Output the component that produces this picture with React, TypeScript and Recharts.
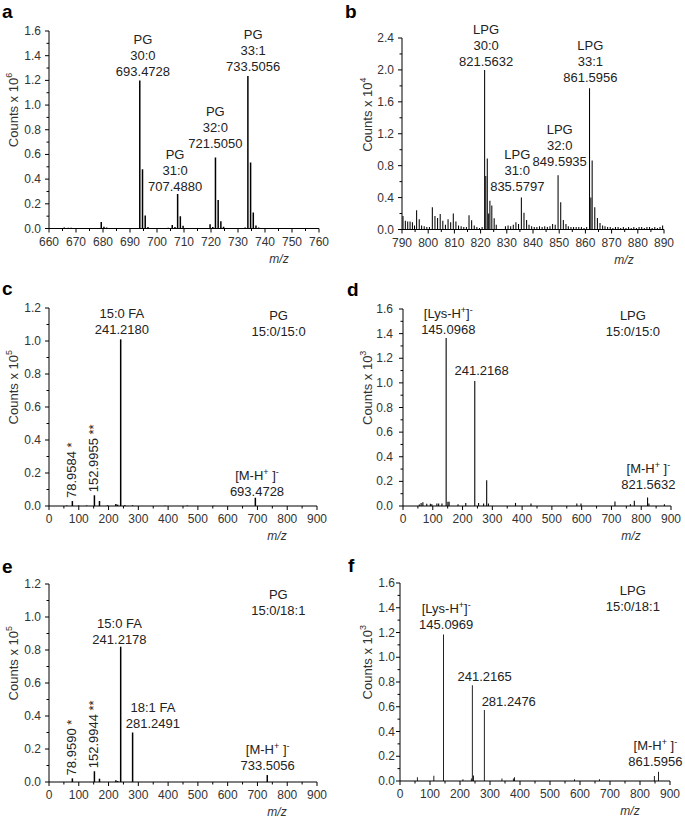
import React from 'react';
import { BarChart, Bar, XAxis, YAxis, ReferenceDot } from 'recharts';

// [m/z, counts] pairs
const peaksA: [number, number][] = [
  [662, 0.004], [665.5, 0.008], [667, 0.006], [668, 0.006], [670, 0.004], [672, 0.003], [675, 0.004], [677, 0.003],
  [679.2, 0.052], [680.2, 0.015], [681.2, 0.008], [683, 0.004], [686, 0.003], [689, 0.003], [691, 0.004],
  [693.47, 1.2], [694.48, 0.48], [695.48, 0.105], [696.5, 0.012], [698, 0.004], [700, 0.003], [702, 0.004], [704, 0.006],
  [705.5, 0.028], [706.5, 0.012], [707.49, 0.28], [708.49, 0.1], [709.5, 0.022], [710.5, 0.005], [713, 0.004], [716, 0.004], [718, 0.005],
  [719.5, 0.035], [720.5, 0.012], [721.5, 0.575], [722.5, 0.23], [723.5, 0.058], [724.5, 0.015], [726, 0.004], [729, 0.004], [731, 0.005], [732.5, 0.008],
  [733.51, 1.235], [734.51, 0.535], [735.51, 0.13], [736.5, 0.025], [737.5, 0.008], [739, 0.004], [742, 0.003], [745, 0.004], [748, 0.003], [751, 0.003], [754, 0.003], [757, 0.003],
];

const peaksB: [number, number][] = [
  [790.4, 0.17], [791.3, 0.11], [792.2, 0.1], [793.1, 0.1], [794.0, 0.09], [794.8, 0.05], [795.6, 0.24], [796.6, 0.13],
  [797.5, 0.05], [798.5, 0.04], [799.5, 0.03], [800.5, 0.03], [801.6, 0.28], [802.6, 0.17], [803.6, 0.145], [804.6, 0.195],
  [805.6, 0.11], [806.6, 0.06], [807.6, 0.13], [808.6, 0.09], [809.6, 0.2], [810.6, 0.1], [811.6, 0.05], [812.6, 0.04],
  [813.6, 0.03], [814.6, 0.03], [815.6, 0.18], [816.6, 0.115], [817.6, 0.05], [818.6, 0.03], [819.6, 0.02], [820.6, 0.03],
  [821.56, 2.0], [822.0, 0.67], [822.57, 0.89], [823.1, 0.2], [823.57, 0.36], [824.3, 0.3], [825.2, 0.14], [826.0, 0.06],
  [829.5, 0.04], [830.5, 0.05], [831.5, 0.04], [832.5, 0.06], [833.5, 0.09], [834.5, 0.07], [835.58, 0.4], [836.58, 0.21],
  [837.58, 0.12], [838.5, 0.06], [839.5, 0.04], [840.5, 0.03], [841.5, 0.03], [842.5, 0.04], [843.5, 0.03], [844.5, 0.04],
  [845.5, 0.03], [846.5, 0.04], [847.5, 0.07], [848.5, 0.06], [849.59, 0.68], [850.6, 0.34], [851.6, 0.12], [852.6, 0.07],
  [853.5, 0.04], [854.5, 0.03], [855.5, 0.03], [856.5, 0.03], [857.5, 0.03], [858.5, 0.03], [859.5, 0.02], [860.5, 0.03],
  [861.6, 1.77], [862.1, 0.4], [862.6, 0.865], [863.6, 0.28], [864.6, 0.145], [865.6, 0.08], [866.6, 0.05], [867.5, 0.04],
  [868.5, 0.03], [869.5, 0.03], [870.5, 0.02], [871.5, 0.03], [872.5, 0.03], [873.5, 0.02], [874.5, 0.03], [875.5, 0.02],
  [876.5, 0.03], [877.5, 0.02], [878.5, 0.03], [879.5, 0.02], [880.5, 0.03], [881.5, 0.03], [882.5, 0.02], [883.5, 0.03],
  [884.5, 0.03], [885.5, 0.02], [886.5, 0.03], [887.5, 0.02], [888.5, 0.03], [889.5, 0.05],
];

const peaksC: [number, number][] = [
  [60, 0.003], [78.96, 0.03], [100, 0.003], [127, 0.003], [152.99, 0.065], [170, 0.03], [197, 0.004], [225, 0.012],
  [231, 0.008], [241.22, 1.01], [255, 0.004], [281, 0.004], [390, 0.002], [465, 0.003], [555, 0.002], [693.47, 0.05],
];

const peaksD: [number, number][] = [
  [55, 0.012], [61, 0.025], [67, 0.03], [80, 0.018], [92, 0.018], [97, 0.015], [114, 0.02], [120, 0.02], [131, 0.02],
  [145.1, 1.365], [151, 0.035], [155, 0.035], [185, 0.015], [211, 0.025], [241.22, 1.015], [254, 0.025], [271, 0.02],
  [281.25, 0.21], [287, 0.02], [378, 0.025], [430, 0.02], [584, 0.02], [598, 0.02], [712, 0.037], [764, 0.015],
  [777, 0.043], [821.56, 0.07], [826, 0.02], [878, 0.015],
];

const peaksE: [number, number][] = [
  [78.96, 0.022], [152.99, 0.065], [170, 0.02], [225, 0.01], [231, 0.006], [241.22, 0.82], [281.25, 0.3], [733.51, 0.042],
];

const peaksF: [number, number][] = [
  [58, 0.03], [113, 0.043], [145.1, 1.183], [210, 0.015], [238, 0.02], [241.22, 0.774], [245, 0.045], [281.25, 0.573],
  [340, 0.02], [378, 0.02], [382, 0.03], [582, 0.015], [665, 0.015], [848, 0.04], [861.6, 0.075],
];

// major tick labels (minor ticks sit halfway between)
const xTicksA = [660, 670, 680, 690, 700, 710, 720, 730, 740, 750, 760];
const xTicksB = [790, 800, 810, 820, 830, 840, 850, 860, 870, 880, 890];
const xTicksFull = [0, 100, 200, 300, 400, 500, 600, 700, 800, 900];
const yTicksA = [0, 0.2, 0.4, 0.6, 0.8, 1.0, 1.2, 1.4, 1.6];
const yTicksB = [0, 0.4, 0.8, 1.2, 1.6, 2.0, 2.4];
const yTicksPG = [0, 0.2, 0.4, 0.6, 0.8, 1.0, 1.2];
const yTicksLPG = [0, 0.2, 0.4, 0.6, 0.8, 1.0, 1.2, 1.4, 1.6];

type Note = { x: number; y: number; lines: string[]; vertical?: boolean };

const notesA: Note[] = [
  { x: 694.8, y: 1.239, lines: ['PG', '30:0', '693.4728'] },
  { x: 706.7, y: 0.3, lines: ['PG', '31:0', '707.4880'] },
  { x: 721.6, y: 0.656, lines: ['PG', '32:0', '721.5050'] },
  { x: 735.6, y: 1.28, lines: ['PG', '33:1', '733.5056'] },
];
const notesB: Note[] = [
  { x: 822.1, y: 2.055, lines: ['LPG', '30:0', '821.5632'] },
  { x: 834.0, y: 0.48, lines: ['LPG', '31:0', '835.5797'] },
  { x: 850.2, y: 0.793, lines: ['LPG', '32:0', '849.5935'] },
  { x: 861.9, y: 1.846, lines: ['LPG', '33:1', '861.5956'] },
];
const notesC: Note[] = [
  { x: 244.6, y: 1.045, lines: ['15:0 FA', '241.2180'] },
  { x: 771, y: 1.03, lines: ['PG', '15:0/15:0'] },
  { x: 698.5, y: 0.058, lines: ['[M-H^{+} ]^{-}', '693.4728'] },
  { x: 78.96, y: 0.03, lines: ['78.9584 *'], vertical: true },
  { x: 152.99, y: 0.065, lines: ['152.9955 **'], vertical: true },
];
const notesD: Note[] = [
  { x: 152, y: 1.393, lines: ['[Lys-H^{+}]^{-}', '145.0968'] },
  { x: 264, y: 1.068, lines: ['241.2168'] },
  { x: 772, y: 1.381, lines: ['LPG', '15:0/15:0'] },
  { x: 824, y: 0.138, lines: ['[M-H^{+} ]^{-}', '821.5632'] },
];
const notesE: Note[] = [
  { x: 770, y: 1.015, lines: ['PG', '15:0/18:1'] },
  { x: 236.7, y: 0.838, lines: ['15:0 FA', '241.2178'] },
  { x: 349, y: 0.328, lines: ['18:1 FA', '281.2491'] },
  { x: 734.4, y: 0.07, lines: ['[M-H^{+} ]^{-}', '733.5056'] },
  { x: 78.96, y: 0.022, lines: ['78.9590 *'], vertical: true },
  { x: 152.99, y: 0.065, lines: ['152.9944 **'], vertical: true },
];
const notesF: Note[] = [
  { x: 776, y: 1.372, lines: ['LPG', '15:0/18:1'] },
  { x: 154, y: 1.23, lines: ['[Lys-H^{+}]^{-}', '145.0969'] },
  { x: 282, y: 0.811, lines: ['241.2165'] },
  { x: 362.5, y: 0.609, lines: ['281.2476'] },
  { x: 851.3, y: 0.121, lines: ['[M-H^{+} ]^{-}', '861.5956'] },
];

const FONT = '"Liberation Sans", Arial, Helvetica, sans-serif';

type Box = { L: number; T: number; R: number; B: number };
type PanelCfg = {
  letter: string; letterPos: [number, number]; box: Box; yLabX: number; tickGap: number;
  peaks: [number, number][]; xTicks: number[]; yTicks: number[]; exp: number;
  notes: Note[]; barSize: number;
};

const panels: PanelCfg[] = [
  { letter: 'a', letterPos: [2, 18], box: { L: 49, T: 31, R: 319, B: 228.5 }, yLabX: 15, tickGap: 8, peaks: peaksA, xTicks: xTicksA, yTicks: yTicksA, exp: 6, notes: notesA, barSize: 1.5 },
  { letter: 'b', letterPos: [345, 18], box: { L: 402, T: 38, R: 664, B: 229.5 }, yLabX: 369, tickGap: 8, peaks: peaksB, xTicks: xTicksB, yTicks: yTicksB, exp: 4, notes: notesB, barSize: 1.3 },
  { letter: 'c', letterPos: [2, 295], box: { L: 49, T: 308, R: 317, B: 506 }, yLabX: 15, tickGap: 8, peaks: peaksC, xTicks: xTicksFull, yTicks: yTicksPG, exp: 5, notes: notesC, barSize: 1.5 },
  { letter: 'd', letterPos: [347, 296], box: { L: 403, T: 309, R: 671, B: 506 }, yLabX: 369.5, tickGap: 10, peaks: peaksD, xTicks: xTicksFull, yTicks: yTicksLPG, exp: 3, notes: notesD, barSize: 1.5 },
  { letter: 'e', letterPos: [2, 573], box: { L: 49, T: 584, R: 317, B: 782 }, yLabX: 15, tickGap: 8, peaks: peaksE, xTicks: xTicksFull, yTicks: yTicksPG, exp: 5, notes: notesE, barSize: 1.5 },
  { letter: 'f', letterPos: [348, 572], box: { L: 400, T: 583, R: 670, B: 781 }, yLabX: 369.5, tickGap: 5, peaks: peaksF, xTicks: xTicksFull, yTicks: yTicksLPG, exp: 3, notes: notesF, barSize: 1.5 },
];

const withMinor = (major: number[]) => {
  const out: number[] = [];
  major.forEach((v, i) => {
    out.push(v);
    if (i < major.length - 1) out.push((v + major[i + 1]) / 2);
  });
  return out;
};

const isMajor = (v: number, majors: number[]) => majors.some((m) => Math.abs(m - v) < 1e-6);

// "^{...}" marks a superscript
const rich = (s: string, supSize: number) => {
  const parts = s.split(/(\^\{[^}]*\})/).filter((p) => p !== '');
  let up = false;
  return parts.map((p, i) => {
    if (p.startsWith('^{')) {
      const dy = up ? 0 : -5;
      up = true;
      return <tspan key={i} dy={dy} fontSize={supSize}>{p.slice(2, -1)}</tspan>;
    }
    const dy = up ? 5 : 0;
    up = false;
    return <tspan key={i} dy={dy}>{p}</tspan>;
  });
};

const XTick = (props: any) => {
  const { x, y, payload, majors } = props;
  const v = payload.value;
  const major = isMajor(v, majors);
  return (
    <g>
      <line x1={x} x2={x} y1={y} y2={y + (major ? 4 : 2.5)} stroke="#000" />
      {major && (
        <text x={x} y={y + 17} textAnchor="middle" fontSize={12} fill="#333" fontFamily={FONT}>{v}</text>
      )}
    </g>
  );
};

const YTick = (props: any) => {
  const { x, y, payload, majors, gap } = props;
  const v = payload.value;
  const major = isMajor(v, majors);
  return (
    <g>
      <line x1={x} x2={x - (major ? 4 : 2.5)} y1={y} y2={y} stroke="#000" />
      {major && (
        <text x={x - gap} y={y + 4} textAnchor="end" fontSize={12} fill="#333" fontFamily={FONT}>{v.toFixed(1)}</text>
      )}
    </g>
  );
};

const NoteText = ({ cx, cy, note }: { cx: number; cy: number; note: Note }) => {
  if (note.vertical) {
    const y0 = cy - 3;
    return (
      <text x={cx} y={y0} transform={`rotate(-90 ${cx} ${y0})`} textAnchor="start" dominantBaseline="middle"
        fontSize={13} fill="#222" fontFamily={FONT}>{note.lines[0]}</text>
    );
  }
  const n = note.lines.length;
  return (
    <g>
      {note.lines.map((ln, i) => (
        <text key={i} x={cx} y={cy - (n - 1 - i) * 16} textAnchor="middle" fontSize={13} fill="#222" fontFamily={FONT}>
          {rich(ln, 9)}
        </text>
      ))}
    </g>
  );
};

const Panel = ({ cfg }: { cfg: PanelCfg }) => {
  const { L, T, R, B } = cfg.box;
  const w = R - L;
  const h = B - T;
  const data = cfg.peaks.map(([mz, v]) => ({ mz, v }));
  const xDomain = [cfg.xTicks[0], cfg.xTicks[cfg.xTicks.length - 1]];
  const yDomain = [0, cfg.yTicks[cfg.yTicks.length - 1]];
  return (
    <div style={{ position: 'absolute', left: L - 49, top: T - 40 }}>
      <BarChart width={w + 49 + 16} height={h + 40 + 45} data={data} margin={{ top: 40, right: 16, bottom: 15, left: 9 }}>
        <XAxis
          type="number" dataKey="mz" domain={xDomain} allowDataOverflow ticks={withMinor(cfg.xTicks)} interval={0}
          tickSize={0} tickMargin={0} tickLine={false} axisLine={{ stroke: '#000' }} height={30}
          tick={(p: any) => <XTick {...p} majors={cfg.xTicks} />}
        />
        <YAxis
          type="number" domain={yDomain} allowDataOverflow ticks={withMinor(cfg.yTicks)} interval={0}
          tickSize={0} tickMargin={0} tickLine={false} axisLine={{ stroke: '#000' }} width={40}
          tick={(p: any) => <YTick {...p} majors={cfg.yTicks} gap={cfg.tickGap} />}
        />
        <Bar dataKey="v" fill="#000" barSize={cfg.barSize} isAnimationActive={false} />
        {cfg.notes.map((n, i) => (
          <ReferenceDot key={i} x={n.x} y={n.y} r={0} ifOverflow="visible"
            shape={(p: any) => <NoteText cx={p.cx} cy={p.cy} note={n} />} />
        ))}
      </BarChart>
    </div>
  );
};

const App = () => (
  <div style={{ position: 'absolute', left: 0, top: 0, width: 685, height: 822, background: '#fff', overflow: 'hidden' }}>
    {panels.map((cfg) => <Panel key={cfg.letter} cfg={cfg} />)}
    <svg width={685} height={822} style={{ position: 'absolute', left: 0, top: 0, pointerEvents: 'none' }}>
      {panels.map((cfg) => {
        const { T, B, R } = cfg.box;
        const cy = T + 0.4 * (B - T);
        return (
          <g key={cfg.letter} fontFamily={FONT}>
            <text x={cfg.letterPos[0]} y={cfg.letterPos[1]} fontSize={19} fontWeight="bold" fill="#000">{cfg.letter}</text>
            <text x={cfg.yLabX} y={cy} transform={`rotate(-90 ${cfg.yLabX} ${cy})`} textAnchor="middle"
              dominantBaseline="middle" fontSize={13} fill="#333">
              {rich(`Counts x 10^{${cfg.exp}}`, 9)}
            </text>
            <text x={R - 40} y={B + 34} textAnchor="middle" fontSize={12} fontStyle="italic" fill="#333">m/z</text>
          </g>
        );
      })}
    </svg>
  </div>
);

export default App;
